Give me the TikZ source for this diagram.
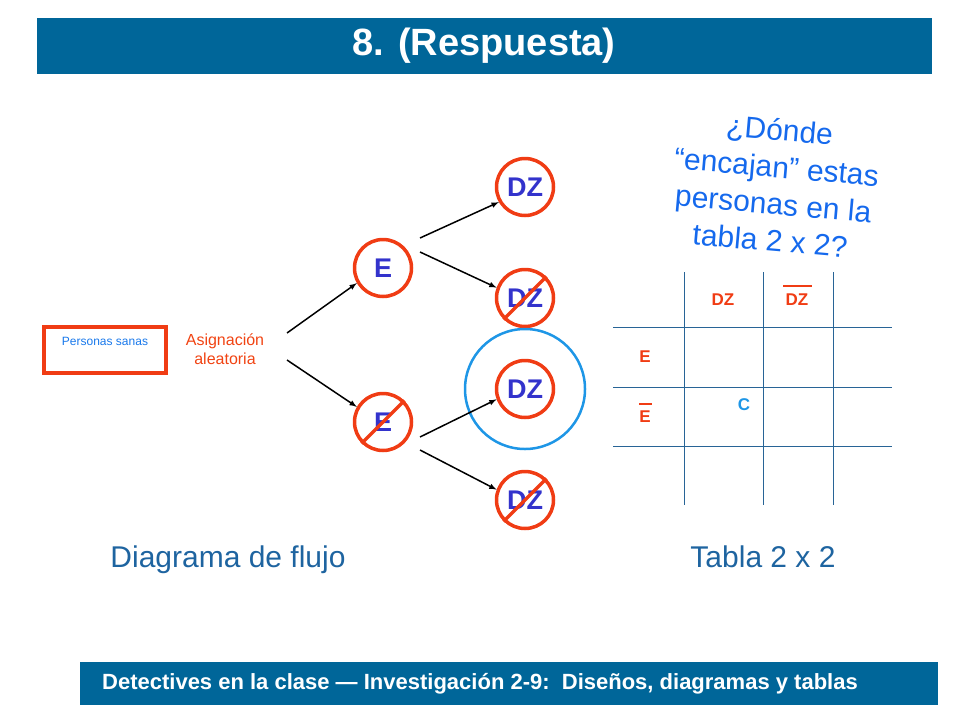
\documentclass[tikz,border=0pt]{standalone}
\usepackage{fontspec}
\setmainfont{Liberation Sans}
\definecolor{barblue}{RGB}{0,102,153}
\definecolor{ringred}{RGB}{240,60,20}
\definecolor{letterblue}{RGB}{51,51,204}
\definecolor{skyblue}{RGB}{30,150,230}
\definecolor{gridblue}{RGB}{40,100,150}
\definecolor{textblue}{RGB}{30,100,160}
\begin{document}
\begin{tikzpicture}[x=1pt,y=-1pt,
  ring/.style={circle,draw=ringred,line width=3.5,minimum size=57,inner sep=0,
    text=letterblue,font=\fontsize{27pt}{27pt}\selectfont\bfseries},
  arr/.style={-latex,line width=1.5,black},
  slash/.style={ringred,line width=3.5},
  tlabel/.style={text=ringred,font=\fontsize{17pt}{17pt}\selectfont\bfseries}]
  \useasboundingbox (0,0) rectangle (960,720);
  % title bar
  \fill [barblue] (37,18) rectangle (932,74);
  \node (title) [text=white,font=\fontsize{38pt}{38pt}\selectfont\bfseries] at (484,46) {8. (Respuesta)};
  % footer bar
  \fill [barblue] (80,662) rectangle (938,705);
  \node (foot) [text=white,font=\fontsize{22pt}{22pt}\selectfont\bfseries] at (480,684)
    {Detectives en la clase --- Investigación 2-9:\ \ Diseños, diagramas y tablas};
  % start box
  \draw [ringred,line width=3.5] (44,327) rectangle (166,373);
  \node (sanas) [text=skyblue!80!blue,font=\fontsize{12pt}{12pt}\selectfont] at (105,341) {Personas sanas};
  \node (asig) [align=center,text=ringred!90!orange,font=\fontsize{16pt}{19pt}\selectfont] at (225,349) {Asignación\\aleatoria};
  % circles
  \node (e) [ring] at (383,268) {E};
  \node (ne) [ring] at (383,422) {E};
  \node (dz1) [ring] at (525,187) {DZ};
  \node (dz2) [ring] at (525,298) {DZ};
  \node (dz3) [ring] at (525,389) {DZ};
  \node (dz4) [ring] at (525,500) {DZ};
  \draw [skyblue,line width=2.5] (dz3) circle (60);
  % slashes
  \draw [slash] (ne.south west) -- (ne.north east);
  \draw [slash] (dz2.south west) -- (dz2.north east);
  \draw [slash] (dz4.south west) -- (dz4.north east);
  % arrows
  \coordinate (s1) at (287,333);
  \coordinate (s2) at (287,360);
  \coordinate (e1) at (420,238);
  \coordinate (e2) at (420,252);
  \coordinate (n1) at (420,437);
  \coordinate (n2) at (420,450);
  \draw [arr] (s1) -- (e.210);
  \draw [arr] (s2) -- (ne.150);
  \draw [arr] (e1) -- (dz1.210);
  \draw [arr] (e2) -- (dz2.160);
  \draw [arr] (n1) -- (dz3.200);
  \draw [arr] (n2) -- (dz4.160);
  % table
  \foreach \x in {684,763,833} \draw [gridblue] (\x,272) -- (\x,505);
  \foreach \y in {327,387,446} \draw [gridblue] (613,\y) -- (892,\y);
  \node (cdz) [tlabel] at (723,300) {DZ};
  \node (cndz) [tlabel] at (797,300) {DZ};
  \draw [ringred,line width=1.5] (783,286) -- (812,286);
  \node (re) [tlabel] at (645,357) {E};
  \node (rne) [tlabel] at (645,417) {E};
  \draw [ringred,line width=1.5] (639,404) -- (652,404);
  \node (cc) [text=skyblue,font=\fontsize{17pt}{17pt}\selectfont\bfseries] at (744,405) {C};
  % question
  \node (q) [rotate=-5,align=center,text=skyblue!70!blue,font=\fontsize{30pt}{37pt}\selectfont] at (775,185)
    {¿Dónde\\“encajan” estas\\personas en la\\tabla 2 x 2?};
  % captions
  \node (cap1) [text=textblue,font=\fontsize{30pt}{30pt}\selectfont] at (228,560) {Diagrama de flujo};
  \node (cap2) [text=textblue,font=\fontsize{30pt}{30pt}\selectfont] at (763,557) {Tabla 2 x 2};
\end{tikzpicture}
\end{document}
